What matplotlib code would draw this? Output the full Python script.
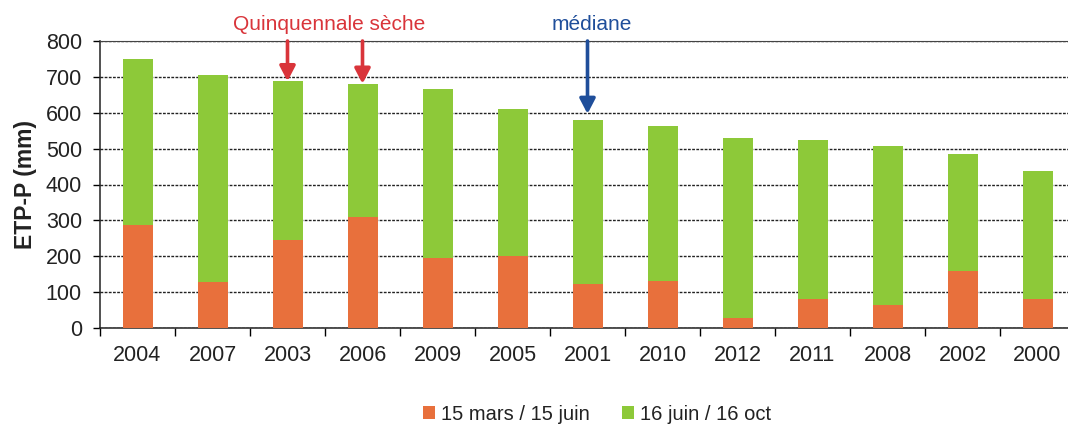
import matplotlib
matplotlib.use("Agg")
import matplotlib.pyplot as plt
import numpy as np

plt.rcParams["font.family"] = ["Liberation Sans", "DejaVu Sans"]

years = ["2004", "2007", "2003", "2006", "2009", "2005", "2001",
         "2010", "2012", "2011", "2008", "2002", "2000"]
totals = [749, 704, 688, 681, 666, 611, 579, 564, 531, 525, 508, 484, 439]
spring = [288, 128, 246, 309, 195, 202, 124, 130, 27, 81, 65, 159, 80]
summer = [t - s for t, s in zip(totals, spring)]
yticks = [0, 100, 200, 300, 400, 500, 600, 700, 800]

dry_years = ["2003", "2006"]
median_year = "2001"

orange = "#E8703C"
green = "#8DC939"
red = "#D9343A"
blue = "#1F4E9A"

fig = plt.figure(figsize=(10.68, 4.26), dpi=100)
ax = fig.add_axes([100 / 1068, 1 - 328 / 426, 975 / 1068, 287 / 426])

x = np.arange(len(years))
ax.bar(x, spring, width=0.4, color=orange, zorder=3, label="15 mars / 15 juin")
ax.bar(x, summer, width=0.4, bottom=spring, color=green, zorder=3, label="16 juin / 16 oct")

ax.set_xlim(-0.5, len(years) - 0.5)
ax.set_ylim(0, 800)
ax.set_yticks(yticks)
ax.set_xticks(x)
ax.set_xticklabels(years)
ax.set_xticks(np.arange(len(years) + 1) - 0.5, minor=True)
ax.tick_params(axis="x", which="major", length=0, pad=12, labelsize=15.5)
ax.tick_params(axis="x", which="minor", length=6, width=1, direction="out")
ax.tick_params(axis="y", length=5, width=1, direction="out", pad=8, labelsize=15.5)
for lab in ax.get_xticklabels() + ax.get_yticklabels():
    lab.set_color("#222222")

ax.yaxis.grid(True, linestyle=(0, (2, 1)), color="#222222", linewidth=1.0, zorder=0)
ax.set_axisbelow(True)
for side in ["left", "bottom"]:
    ax.spines[side].set_color("#222222")
    ax.spines[side].set_linewidth(1.1)
ax.spines["top"].set_color("#444444")
ax.spines["right"].set_visible(False)

ax.set_ylabel("ETP-P (mm)", fontsize=16.5, fontweight="bold", labelpad=6, color="#222222")

arrow_style = "-|>,head_width=0.47,head_length=0.9"
for yr in dry_years:
    i = years.index(yr)
    ax.annotate("", xy=(i, totals[i]), xytext=(i, 800),
                arrowprops=dict(arrowstyle=arrow_style, color=red, lw=2.6,
                                shrinkA=0, shrinkB=0),
                annotation_clip=False)
i = years.index(median_year)
ax.annotate("", xy=(i, totals[i] + 18), xytext=(i, 800),
            arrowprops=dict(arrowstyle=arrow_style, color=blue, lw=2.6,
                            shrinkA=0, shrinkB=0),
            annotation_clip=False)

fig.text(329 / 1068, 1 - 24 / 426, "Quinquennale sèche", color=red,
         fontsize=15, ha="center", va="center")
fig.text(592 / 1068, 1 - 24 / 426, "médiane", color=blue,
         fontsize=15, ha="center", va="center")

fig.legend(loc="center", bbox_to_anchor=(597 / 1068, 1 - 414 / 426), ncol=2,
           frameon=False, fontsize=14.5, handlelength=0.6, handleheight=0.6,
           handletextpad=0.3, columnspacing=1.6, labelcolor="#222222")

fig.savefig("out.png", dpi=100, facecolor="white")
